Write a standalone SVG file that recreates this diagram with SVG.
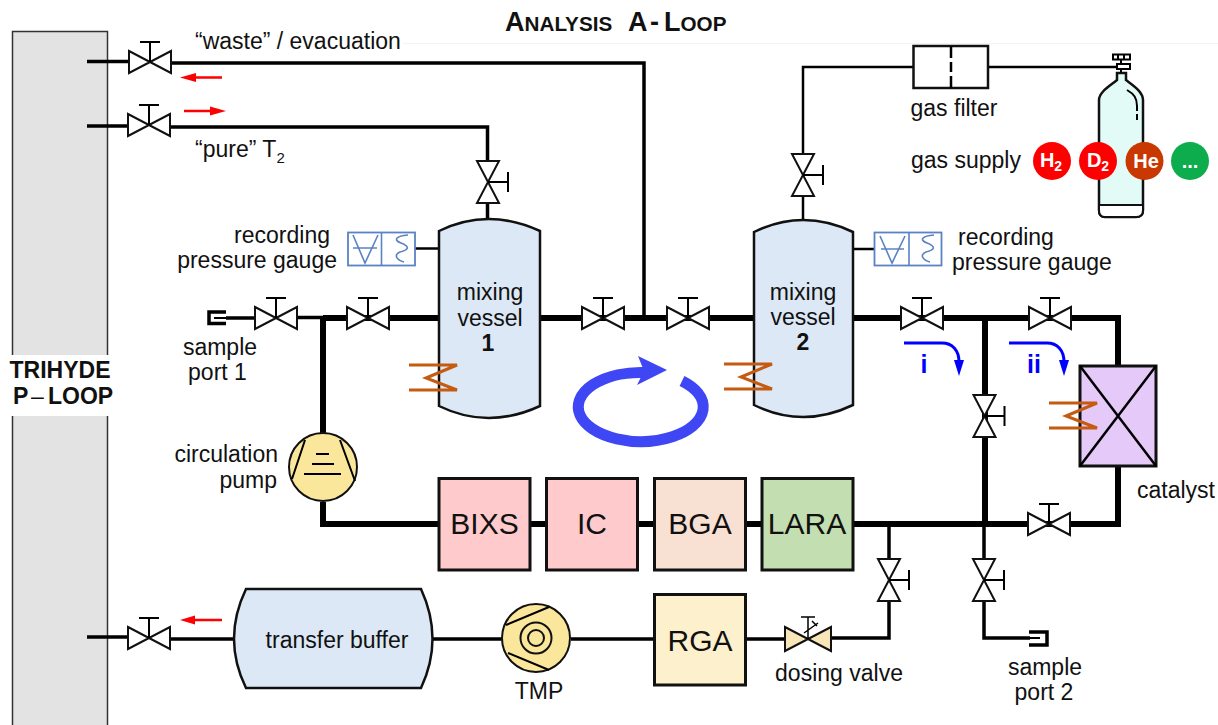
<svg xmlns="http://www.w3.org/2000/svg" width="1218" height="725" viewBox="0 0 1218 725">
<style>
text{font-family:"Liberation Sans",Arial,sans-serif;fill:#111}
.t{font-size:23px}
.b{font-size:30px}
.bold{font-weight:bold}
.p{fill:none;stroke:#000;stroke-linejoin:miter}
.p1{stroke-width:2.5}
.p2{stroke-width:3.5}
.p3{stroke-width:6}
.v{fill:#fff;stroke:#111;stroke-width:2;stroke-linejoin:miter}
.h{fill:none;stroke:#c55a11;stroke-width:3}
.box{stroke:#111;stroke-width:3}
.g{fill:#fff;stroke:#5b82c5;stroke-width:1.8}
.gs{fill:none;stroke:#5b82c5;stroke-width:1.6}
.ra{fill:none;stroke:#f00;stroke-width:2.5}
.rh{fill:#f00}
.bl{fill:none;stroke:#00f;stroke-width:3}
.vessel{fill:#dce8f5;stroke:#111;stroke-width:2.5}
.pump{fill:#fbe79b;stroke:#111;stroke-width:2}
.ci{font-weight:bold;fill:#fff;font-size:20px;text-anchor:middle}
.cs{font-size:14px}
.tb{font-size:27px;font-weight:bold}
.ts{font-size:20.700px;font-weight:bold}
</style>
<defs>
<g id="vh"><path class="v" d="M-21-11 21 11V-11L-21 11Z"/><path class="p" stroke-width="2" d="M0 0V-20M-10-20H10"/></g>
<g id="vv"><path class="v" d="M-11-21 11 21H-11L11-21Z"/><path class="p" stroke-width="2" d="M0 0H20M20-10V10"/></g>
</defs>
<rect id="bg-line" x="403" y="43" width="815" height="1" fill="#f3f3f3"/>
<g id="trihyde-loop"><rect x="12.500" y="31.500" width="95" height="700" fill="#e3e3e3" stroke="#333" stroke-width="1.5"/>
<rect x="5" y="355" width="110" height="61" fill="#fff"/>
<text class="bold" x="60" y="378" font-size="23" text-anchor="middle">TRIHYDE</text>
<text class="bold" x="13" y="404" font-size="23">P</text><text x="31" y="404" font-size="23">–</text><text class="bold" x="48" y="404" font-size="23">LOOP</text></g>
<g id="connectors">
<path class="p p2" d="M87 61.500H130M170 63H644V318"/>
<path class="p p2" d="M87 126H128M170 127H487.500V162M487.500 202V220"/>
<path class="p p1" d="M415 248.500H439M853 249H874"/>
<path class="p p1" d="M803 196V220M803 154V67H913M988 67H1118"/>
<path class="p p2" d="M226 318H256M296 317.500H323"/>
<path class="p p3" d="M323 318H439M540 318H754M853 318H1118V366"/>
<path class="p p3" d="M323 318V434M323 502V524H439M530 524H546M637 524H654M745 524H762M853 524H1118V466"/>
<path class="p p3" d="M985 318V524"/>
<path class="p p2" d="M984 524V560M984 600V638H1030"/>
<path class="p p2" d="M889 524V560M889 600V638H830M786 639H745"/>
<path class="p p2" d="M87 637H128M170 639H234"/>
<path class="p p2" d="M433 639H502M571 639H654"/>
</g>
<g id="title"><text class="tb" x="505" y="31">A<tspan class="ts">NALYSIS</tspan></text><text class="tb" x="628" y="31">A</text><text class="tb" x="650" y="31">-</text><text class="tb" x="664" y="31">L<tspan class="ts">OOP</tspan></text></g>
<g id="v-waste"><use href="#vh" x="150" y="62"/></g>
<g id="v-pure"><use href="#vh" x="149" y="125"/></g>
<g id="flow-red">
<path class="ra" d="M190 77.500H222M184 111H215M190 620H222"/>
<path class="rh" d="M180 77.500 196 73V82ZM226 111 210 106.500V115.500ZM180 620 195 615.500V624.500Z"/>
</g>
<text class="t" x="195" y="49">“waste” / evacuation</text>
<text class="t" x="195" y="157">“pure” T<tspan font-size="15" dy="6">2</tspan></text>
<g id="v-top1"><use href="#vv" x="488" y="182"/></g>
<g id="v-top2"><use href="#vv" x="803" y="175"/></g>
<g id="vessel1">
<path class="vessel" d="M439 231Q488 207 540 231V406Q488 430 439 406Z"/>
<text class="t" x="490" y="300" text-anchor="middle">mixing</text>
<text class="t" x="490" y="326" text-anchor="middle">vessel</text>
<text class="t bold" x="488" y="351" text-anchor="middle">1</text>
</g>
<g id="vessel2">
<path class="vessel" d="M754 232Q803 208 853 232V405Q803 429 754 405Z"/>
<text class="t" x="803" y="300" text-anchor="middle">mixing</text>
<text class="t" x="803" y="325" text-anchor="middle">vessel</text>
<text class="t bold" x="803" y="350" text-anchor="middle">2</text>
</g>
<g id="gauge1"><rect class="g" x="348" y="232.500" width="67" height="33"/><path class="gs" d="M381.500 232.500V265.500M353 235 365 263 378 235M353 248H377M408 235C396 236 393 240 401 243 411 247 408 250 400 252 393 255 397 260 404 262"/></g>
<g id="gauge2"><rect class="g" x="874.500" y="232.500" width="67" height="33"/><path class="gs" d="M909 232.500V265.500M880 236 892 263 905 236M881 249H904M934 235C922 236 919 240 927 243 937 247 934 250 926 252 919 255 923 260 930 262"/></g>
<text class="t" x="330" y="243" text-anchor="end">recording</text>
<text class="t" x="337" y="268" text-anchor="end">pressure gauge</text>
<text class="t" x="958" y="245">recording</text>
<text class="t" x="952" y="270">pressure gauge</text>
<g id="sample1"><path class="p" stroke-width="3.500" d="M226 312H209V323.500H226"/><path class="p" stroke-width="2" d="M214 318H226"/>
<text class="t" x="220" y="355" text-anchor="middle">sample</text><text class="t" x="217.500" y="380" text-anchor="middle">port 1</text></g>
<g id="v-s1"><use href="#vh" x="276" y="318"/></g>
<g id="v-main1"><use href="#vh" x="368" y="318"/></g>
<g id="v-main2"><use href="#vh" x="603" y="318"/></g>
<g id="v-main3"><use href="#vh" x="688" y="318"/></g>
<g id="v-main4"><use href="#vh" x="922" y="318"/></g>
<g id="v-main5"><use href="#vh" x="1050" y="318"/></g>
<g id="v-cross"><use href="#vv" x="984.500" y="416"/></g>
<g id="v-ret"><use href="#vh" x="1049" y="524"/></g>
<g id="v-s2"><use href="#vv" x="984" y="580"/></g>
<g id="v-dose"><use href="#vv" x="889" y="580"/></g>
<g id="v-buffer"><use href="#vh" x="149" y="638"/></g>
<g id="heaters"><path class="h" d="M409 365H457L426 378 457 390H409M724 364H772L741 377 772 389H724"/></g>
<g id="catalyst"><rect x="1080" y="366" width="76" height="100" fill="#e4c9f9" stroke="#111" stroke-width="3"/><path class="p" stroke-width="2.500" d="M1080 366 1156 466M1156 366 1080 466"/>
<path class="h" d="M1049 403H1097L1066 416 1097 428H1049"/>
<text class="t" x="1137" y="498">catalyst</text></g>
<g id="loop-arrow"><path fill="none" stroke="#3f47f5" stroke-width="11" d="M682 381A62.500 34.500 0 1 1 645 372.500"/>
<path fill="#3f47f5" d="M667 370 638 356 644 371 637 385Z"/></g>
<g id="flow-i"><path class="bl" d="M904 343H942C952 343 959 350 959 362"/><path fill="#00f" d="M954 360H964L959 376Z"/><text x="924" y="373" font-size="25" class="bold" text-anchor="middle" style="fill:#00f">i</text></g>
<g id="flow-ii"><path class="bl" d="M1009 343H1047C1057 343 1064 350 1064 362"/><path fill="#00f" d="M1059 360H1069L1064 376Z"/><text x="1034" y="373" font-size="25" class="bold" text-anchor="middle" style="fill:#00f">ii</text></g>
<g id="pump"><circle class="pump" cx="323" cy="467" r="34"/><path class="p" stroke-width="2" d="M305 440 292 479M340 440 355 481M316 454H329M312 464H334M304 474H341"/>
<text class="t" x="278" y="462" text-anchor="end">circulation</text><text class="t" x="277" y="488" text-anchor="end">pump</text></g>
<g id="bixs"><rect class="box" x="439" y="478.500" width="91" height="91.500" fill="#fecacc"/><text class="b" x="484.500" y="533.500" text-anchor="middle">BIXS</text></g>
<g id="ic"><rect class="box" x="546.500" y="478.500" width="91" height="91.500" fill="#fecacc"/><text class="b" x="592" y="533.500" text-anchor="middle">IC</text></g>
<g id="bga"><rect class="box" x="654.500" y="478.500" width="91" height="91.500" fill="#f8e0d3"/><text class="b" x="700" y="533.500" text-anchor="middle">BGA</text></g>
<g id="lara"><rect class="box" x="762" y="478.500" width="91" height="91.500" fill="#c3deb0"/><text class="b" x="807" y="533.500" text-anchor="middle">LARA</text></g>
<g id="rga"><rect class="box" x="654.500" y="594.500" width="91" height="90.500" fill="#fdf0cd"/><text class="b" x="700" y="651" text-anchor="middle">RGA</text></g>
<g id="buffer"><path class="vessel" d="M246 589H421Q444 639 421 688H246Q222 639 246 589Z"/><text class="t" x="337" y="648" text-anchor="middle">transfer buffer</text></g>
<g id="tmp"><circle class="pump" cx="536" cy="638" r="34"/><path class="p" stroke-width="2" d="M506 625 549 607M508 653 549 670"/><circle cx="536" cy="638" r="15.500" fill="none" stroke="#111" stroke-width="2"/><circle cx="536" cy="638" r="8" fill="none" stroke="#111" stroke-width="2"/><text class="t" x="539" y="699" text-anchor="middle">TMP</text></g>
<g id="dosing"><path d="M785 627 831 651V627L785 651Z" fill="#f8e6b9" stroke="#111" stroke-width="2"/><path class="p" stroke-width="1.500" d="M808 639 808 617M801 617H815M804 633 818 623M812 621 817 626"/><text class="t" x="839" y="681" text-anchor="middle">dosing valve</text></g>
<g id="sample2"><path class="p" stroke-width="3.500" d="M1029 632H1047V645H1029"/><path class="p" stroke-width="2" d="M1029 638H1040"/>
<text class="t" x="1045" y="675" text-anchor="middle">sample</text><text class="t" x="1044" y="700" text-anchor="middle">port 2</text></g>
<g id="filter"><rect x="913.500" y="46" width="74.500" height="42" fill="#fff" stroke="#111" stroke-width="2.500"/><path class="p" stroke-width="2.500" d="M951 46V58M951 62V72M951 76V88"/><text class="t" x="954" y="116" text-anchor="middle">gas filter</text></g>
<g id="cylinder"><path d="M1099 100C1099 92 1110 86 1117 80V73H1126V80C1134 86 1143 92 1143 100V210Q1143 217 1136 217H1105Q1099 217 1099 210Z" fill="#e3fbf7" stroke="#111" stroke-width="2.500"/><path d="M1099 205H1143V210Q1143 217 1136 217H1105Q1099 217 1099 210Z" fill="#fff" stroke="#111" stroke-width="2"/><path class="p" stroke-width="2" d="M1127 90C1134 94 1137 98 1137 106V111M1137 114V120"/><path class="p" stroke-width="2" d="M1121 60V64M1121 69V73"/><rect x="1117" y="64" width="13" height="5" fill="#fff" stroke="#000" stroke-width="2"/><rect x="1113" y="54.500" width="17" height="5" fill="#fff" stroke="#000" stroke-width="2"/><path class="p" stroke-width="2" d="M1118 54.500V59.500M1124 54.500V59.500"/></g>
<g id="gas-supply"><text class="t" x="911" y="168">gas supply</text>
<circle cx="1052" cy="161" r="19" fill="#f00"/><circle cx="1098" cy="161" r="19" fill="#f00"/><circle cx="1144.500" cy="161" r="19" fill="#c93800"/><circle cx="1190" cy="161" r="19" fill="#0dac4c"/>
<text class="ci" x="1051" y="167">H<tspan class="cs" dy="4">2</tspan></text><text class="ci" x="1098" y="167">D<tspan class="cs" dy="4">2</tspan></text><text class="ci" x="1146" y="168">He</text><text class="ci" x="1190" y="168">...</text></g>
</svg>
